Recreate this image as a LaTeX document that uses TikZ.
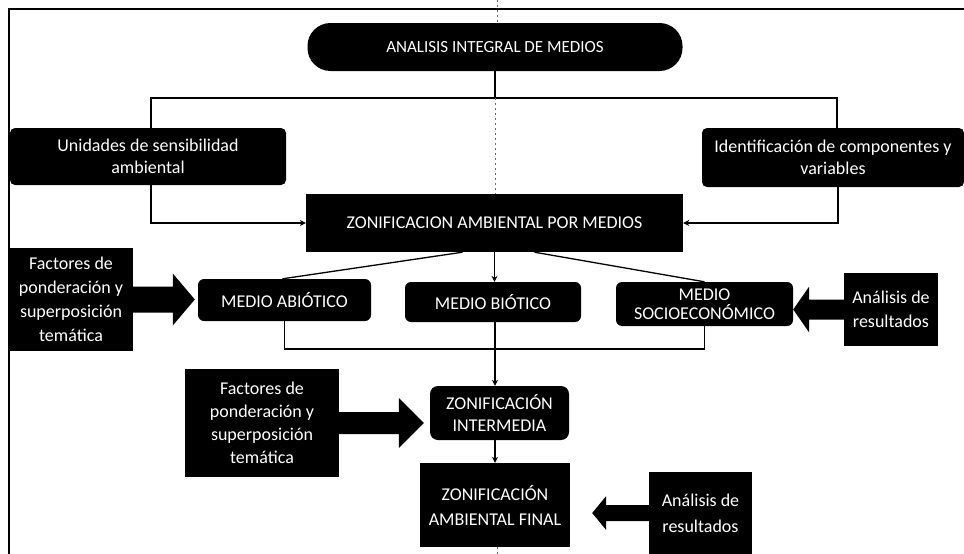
\documentclass[tikz,border=0pt]{standalone}
\usepackage{fontspec}
\setmainfont{Carlito}
\usetikzlibrary{arrows.meta,calc}
\newcommand{\blkarrow}[5]{%
  \fill[black] let \p1=(#1), \p2=(#2) in
    (\x1,\y1+#3) -- (\x2-#5,\y1+#3) -- (\x2-#5,\y1+#4) -- (\x2,\y1)
    -- (\x2-#5,\y1-#4) -- (\x2-#5,\y1-#3) -- (\x1,\y1-#3) -- cycle;}
\tikzset{
  box/.style={fill=black, text=white, align=center, inner sep=2pt,
    font=\fontsize{18}{22}\selectfont},
  conn/.style={line width=1.3pt, black},
  arr/.style={conn, -{Stealth[length=6pt,width=6pt]}},
  scanline/.style={line width=0.5pt, black!60, dash pattern=on 2pt off 3pt},
}
\begin{document}
\begin{tikzpicture}[x=1pt,y=-1pt]
\useasboundingbox (0,0) rectangle (964,554);
% frame lines
\coordinate (ftl) at (9,9);
\coordinate (ftr) at (964,9);
\coordinate (fbl) at (9,554);
\draw[line width=1.5pt] (ftr) -- (ftl) -- (fbl);
% nodes
\node[box, minimum width=375pt, minimum height=48pt, rounded corners=23pt,
  font=\fontsize{17}{20}\selectfont] (anal) at (495,47) {ANALISIS INTEGRAL DE MEDIOS};
\node[box, minimum width=276pt, minimum height=57pt, rounded corners=5pt] (unid) at (148,156.5)
  {Unidades de sensibilidad\\ambiental};
\node[box, minimum width=262pt, minimum height=59pt, rounded corners=5pt] (ident) at (833,157.5)
  {Identificación de componentes y\\variables};
\node[box, minimum width=377pt, minimum height=58pt] (zpm) at (494.5,223)
  {ZONIFICACION AMBIENTAL POR MEDIOS};
\node[box, minimum width=173pt, minimum height=42pt, rounded corners=6pt] (abio) at (284.5,300)
  {MEDIO ABIÓTICO};
\node[box, minimum width=176pt, minimum height=40pt, rounded corners=6pt] (bio) at (493,302)
  {MEDIO BIÓTICO};
\node[box, minimum width=177pt, minimum height=44pt, rounded corners=6pt,
  font=\fontsize{18}{19}\selectfont] (socio) at (704.5,304)
  {MEDIO\\SOCIOECONÓMICO};
\node[box, minimum width=124pt, minimum height=103pt, font=\fontsize{18}{24}\selectfont] (fac1) at (71,299.5)
  {Factores de\\ponderación y\\superposición\\temática};
\node[box, minimum width=94pt, minimum height=73pt, font=\fontsize{18}{24}\selectfont] (anr1) at (891,309.5)
  {Análisis de\\resultados};
\node[box, minimum width=154pt, minimum height=108pt, font=\fontsize{18}{23}\selectfont] (fac2) at (262,423)
  {Factores de\\ponderación y\\superposición\\temática};
\node[box, minimum width=139pt, minimum height=54pt, rounded corners=8pt] (zint) at (499.5,413)
  {ZONIFICACIÓN\\INTERMEDIA};
\node[box, minimum width=150pt, minimum height=84pt, font=\fontsize{18}{25}\selectfont] (zfin) at (495,505)
  {ZONIFICACIÓN\\AMBIENTAL FINAL};
\node[box, minimum width=103pt, minimum height=82pt, font=\fontsize{18}{26}\selectfont] (anr2) at (700.5,513)
  {Análisis de\\resultados};
% scan centre line
\coordinate (ctop) at (497,0);
\coordinate (cbot) at (497,554);
\draw[scanline] (ctop) -- (anal.north -| ctop);
\draw[scanline] (zfin.south -| cbot) -- (cbot);
% connectors
\coordinate (jt) at (495,98);
\coordinate (jb) at (495,349);
\draw[conn] (anal.south) -- (jt);
\draw[conn] ([xshift=3pt]unid.north) |- (jt) -| ([xshift=4pt]ident.north);
\draw[scanline] (jt) -- (zpm.north -| jt);
\draw[arr] ([xshift=3pt]unid.south) |- (zpm.west);
\draw[arr] ([xshift=5pt]ident.south) |- (zpm.east);
\draw[arr] (zpm.south) -- (zpm.south |- bio.north);
\draw[conn] ([xshift=-32pt]zpm.south) -- ([xshift=-2pt]abio.north);
\draw[conn] ([xshift=40pt]zpm.south) -- (socio.north);
\draw[conn] (abio.south) |- (jb) -| (socio.south);
\draw[conn] (bio.south -| jb) -- (jb);
\draw[arr] (jb) -- (jb |- zint.north);
\draw[arr] (zint.south -| jb) -- (zfin.north -| jb);
% block arrows
\coordinate (t1) at ([xshift=-3pt]abio.west);
\coordinate (t2) at ([xshift=-6pt]zint.west);
\coordinate (t3) at (socio.east);
\coordinate (t4) at ([xshift=22pt]zfin.east);
\blkarrow{fac1.east}{t1}{13pt}{26pt}{22pt}
\blkarrow{fac2.east}{t2}{11pt}{25pt}{25pt}
\blkarrow{anr1.west}{t3}{10pt}{23pt}{-16pt}
\blkarrow{anr2.west}{t4}{8pt}{17pt}{-14pt}
\end{tikzpicture}
\end{document}
